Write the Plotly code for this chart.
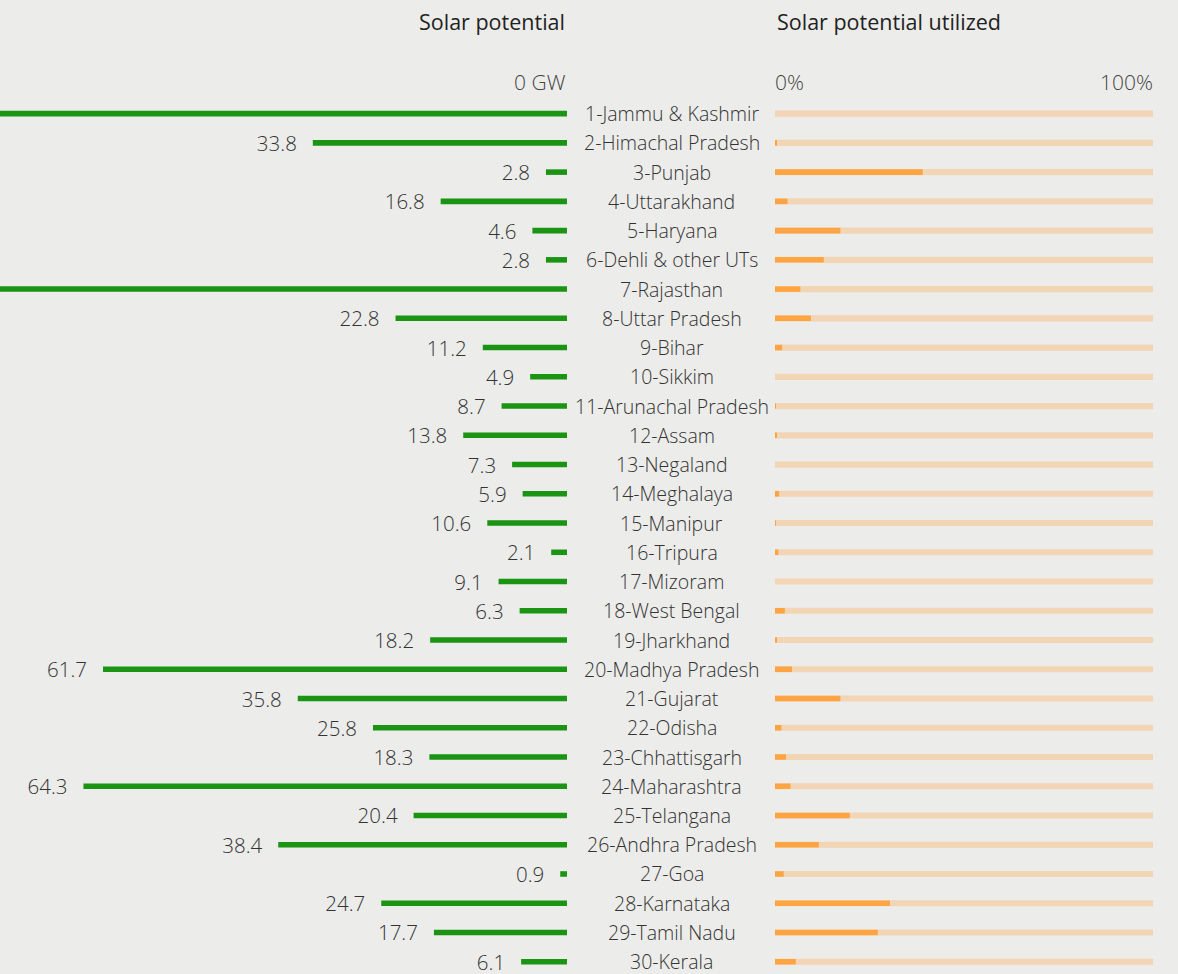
import plotly.graph_objects as go

states = ["1-Jammu & Kashmir", "2-Himachal Pradesh", "3-Punjab", "4-Uttarakhand", "5-Haryana",
          "6-Dehli & other UTs", "7-Rajasthan", "8-Uttar Pradesh", "9-Bihar", "10-Sikkim",
          "11-Arunachal Pradesh", "12-Assam", "13-Negaland", "14-Meghalaya", "15-Manipur",
          "16-Tripura", "17-Mizoram", "18-West Bengal", "19-Jharkhand", "20-Madhya Pradesh",
          "21-Gujarat", "22-Odisha", "23-Chhattisgarh", "24-Maharashtra", "25-Telangana",
          "26-Andhra Pradesh", "27-Goa", "28-Karnataka", "29-Tamil Nadu", "30-Kerala"]

potential_gw = [111.1, 33.8, 2.8, 16.8, 4.6, 2.8, 142.3, 22.8, 11.2, 4.9,
                8.7, 13.8, 7.3, 5.9, 10.6, 2.1, 9.1, 6.3, 18.2, 61.7,
                35.8, 25.8, 18.3, 64.3, 20.4, 38.4, 0.9, 24.7, 17.7, 6.1]

utilized_pct = [0.0, 0.4, 39.1, 3.3, 17.3, 12.9, 6.7, 9.5, 1.9, 0.0,
                0.2, 0.5, 0.0, 1.1, 0.2, 0.9, 0.0, 2.6, 0.5, 4.5,
                17.3, 1.7, 2.9, 4.1, 19.8, 11.6, 2.3, 30.4, 27.2, 5.5]

full_scale = [100] * len(states)

W, H = 1178, 974
TOP = 99
PLOT_H = H - TOP
BG = "#ececea"
FONT = "Open Sans"
GREEN = "#1a9412"
ORANGE = "#ffa443"
PEACH = "#f2d5b5"
TXT = "#333333"
GW_MAX = 567 / 7.52  # visible extent of the left axis

# value labels only for bars whose end lies inside the visible range
value_labels = [f"{v:.1f}\u00a0\u00a0\u00a0" if v < GW_MAX - 8 else "" for v in potential_gw]


def py(pix):
    # paper y coordinate for a pixel row measured from the top of the figure
    return (H - pix) / PLOT_H


fig = go.Figure()

fig.add_trace(go.Bar(
    x=potential_gw, y=states, orientation="h", xaxis="x", yaxis="y",
    marker=dict(color=GREEN, line=dict(width=0)), width=0.19,
    text=value_labels, texttemplate="%{text}", textposition="outside", constraintext="none",
    cliponaxis=False, textfont=dict(family=FONT, size=20.5, color=TXT, weight=300),
    hoverinfo="skip", showlegend=False))

fig.add_trace(go.Bar(
    x=full_scale, y=states, orientation="h", xaxis="x2", yaxis="y",
    marker=dict(color=PEACH, line=dict(width=0)), width=0.21,
    hoverinfo="skip", showlegend=False))

fig.add_trace(go.Bar(
    x=utilized_pct, y=states, orientation="h", xaxis="x2", yaxis="y",
    marker=dict(color=ORANGE, line=dict(width=0)), width=0.19,
    hoverinfo="skip", showlegend=False))

for s in states:
    fig.add_annotation(x=671.5 / W, xref="paper", y=s, yref="y", text=s, showarrow=False,
                       xanchor="center", yanchor="middle",
                       font=dict(family=FONT, size=19.5, color=TXT, weight=300))

fig.add_annotation(x=567 / W, y=py(22), xref="paper", yref="paper", text="Solar potential",
                   showarrow=False, xanchor="right", yanchor="middle",
                   font=dict(family=FONT, size=21.5, color="#222222"))
fig.add_annotation(x=775 / W, y=py(22), xref="paper", yref="paper", text="Solar potential utilized",
                   showarrow=False, xanchor="left", yanchor="middle",
                   font=dict(family=FONT, size=21.5, color="#222222"))
fig.add_annotation(x=568 / W, y=py(82), xref="paper", yref="paper", text="0 GW",
                   showarrow=False, xanchor="right", yanchor="middle",
                   font=dict(family=FONT, size=21, color="#444444", weight=300))
fig.add_annotation(x=773 / W, y=py(82), xref="paper", yref="paper", text="0%",
                   showarrow=False, xanchor="left", yanchor="middle",
                   font=dict(family=FONT, size=21, color="#444444", weight=300))
fig.add_annotation(x=1155 / W, y=py(82), xref="paper", yref="paper", text="100%",
                   showarrow=False, xanchor="right", yanchor="middle",
                   font=dict(family=FONT, size=21, color="#444444", weight=300))

fig.update_layout(
    width=W, height=H,
    margin=dict(l=0, r=0, t=TOP, b=0),
    paper_bgcolor=BG, plot_bgcolor=BG,
    barmode="overlay",
    xaxis=dict(domain=[0, 567 / W], range=[GW_MAX, 0], showgrid=False, zeroline=False,
               showticklabels=False, fixedrange=True),
    xaxis2=dict(domain=[775 / W, 1153 / W], range=[0, 100], showgrid=False, zeroline=False,
                showticklabels=False, fixedrange=True),
    yaxis=dict(categoryorder="array", categoryarray=states, range=[29.42, -0.5],
               showgrid=False, zeroline=False, showticklabels=False, fixedrange=True),
)

fig.write_html("out.html", config={"displayModeBar": False},
               post_script="document.body.style.margin='0';document.body.style.background='#ececea';")
